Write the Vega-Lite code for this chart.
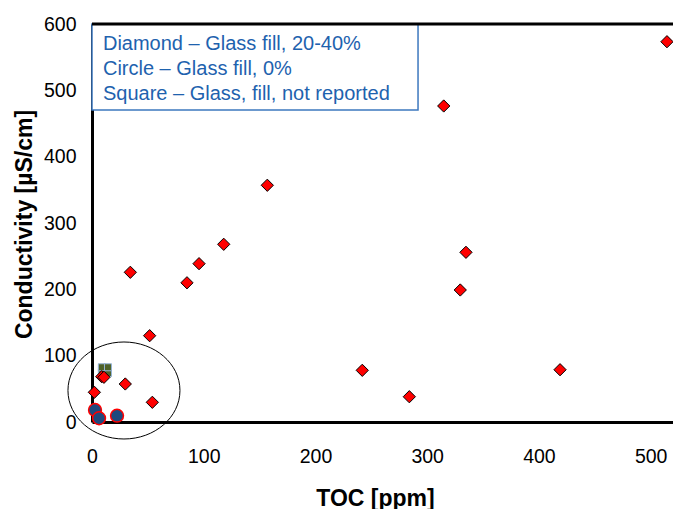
{
  "$schema": "https://vega.github.io/schema/vega-lite/v6.json",
  "width": 581,
  "height": 398,
  "autosize": {"type": "none"},
  "padding": {"left": 92, "top": 24, "right": 0, "bottom": 87},
  "background": "white",
  "config": {
    "view": {"stroke": null},
    "axis": {
      "grid": false,
      "ticks": false,
      "tickSize": 0,
      "labelFlush": false,
      "labelOverlap": false,
      "domainColor": "#000000",
      "domainWidth": 3,
      "labelFont": "Liberation Sans Narrow, Arial Narrow, Liberation Sans, Arial",
      "labelFontSize": 19.5,
      "labelColor": "#000000",
      "titleFont": "Liberation Sans, Arial",
      "titleFontSize": 23,
      "titleFontWeight": "bold",
      "titleColor": "#000000"
    },
    "axisX": {"labelPadding": 25, "titleX": 283, "titleY": 76, "titleBaseline": "middle"},
    "axisY": {"labelPadding": 16, "titleX": -68, "titleY": 200, "titleAngle": -90, "titleAlign": "center", "titleBaseline": "middle"}
  },
  "datasets": {
    "diamonds": [
      {"toc": 514.6, "cond": 573.3},
      {"toc": 314.8, "cond": 476.4},
      {"toc": 334.7, "cond": 255.8},
      {"toc": 329.6, "cond": 199.0},
      {"toc": 156.9, "cond": 356.9},
      {"toc": 117.9, "cond": 267.9},
      {"toc": 95.8, "cond": 238.7},
      {"toc": 85.0, "cond": 209.9},
      {"toc": 34.3, "cond": 225.7},
      {"toc": 51.6, "cond": 130.1},
      {"toc": 241.9, "cond": 77.9},
      {"toc": 284.0, "cond": 38.1},
      {"toc": 418.9, "cond": 78.8},
      {"toc": 2.1, "cond": 44.8},
      {"toc": 8.7, "cond": 68.3},
      {"toc": 10.7, "cond": 67.4},
      {"toc": 29.8, "cond": 57.3},
      {"toc": 54.0, "cond": 29.7}
    ],
    "circles": [
      {"toc": 2.7, "cond": 18.1},
      {"toc": 22.4, "cond": 9.5},
      {"toc": 6.3, "cond": 5.6}
    ],
    "squares": [
      {"toc": 8.8, "cond": 73.9},
      {"toc": 14.3, "cond": 73.9},
      {"toc": 8.8, "cond": 82.5},
      {"toc": 14.3, "cond": 82.5}
    ],
    "oval": [
      {"toc": 28.6, "cond": 47.5}
    ],
    "box": [
      {"toc": 0, "toc2": 291.8, "cond": 600, "cond2": 470.4}
    ],
    "frame": [
      {"cond": 600}
    ],
    "notes": [
      {"toc": 9.8, "cond": 560.8, "label": "Diamond – Glass fill, 20-40%"},
      {"toc": 9.8, "cond": 523.1, "label": "Circle – Glass fill, 0%"},
      {"toc": 9.8, "cond": 485.4, "label": "Square – Glass, fill, not reported"}
    ]
  },
  "layer": [
    {
      "data": {"name": "box"},
      "mark": {"type": "rect", "fill": "white", "stroke": "#3D78BE", "strokeWidth": 1.5},
      "encoding": {
        "x": {"field": "toc", "type": "quantitative", "title": "TOC [ppm]", "scale": {"domain": [0, 520], "nice": false, "zero": false}, "axis": {"values": [0, 100, 200, 300, 400, 500]}},
        "x2": {"field": "toc2"},
        "y": {"field": "cond", "type": "quantitative", "title": "Conductivity [µS/cm]", "scale": {"domain": [0, 600], "nice": false, "zero": false}, "axis": {"values": [0, 100, 200, 300, 400, 500, 600]}},
        "y2": {"field": "cond2"}
      }
    },
    {
      "data": {"name": "notes"},
      "mark": {"type": "text", "align": "left", "baseline": "alphabetic", "font": "Liberation Sans, Arial", "fontSize": 20, "color": "#1E62AE"},
      "encoding": {
        "x": {"field": "toc", "type": "quantitative", "title": "TOC [ppm]", "scale": {"domain": [0, 520], "nice": false, "zero": false}},
        "y": {"field": "cond", "type": "quantitative", "title": "Conductivity [µS/cm]", "scale": {"domain": [0, 600], "nice": false, "zero": false}},
        "text": {"field": "label"}
      }
    },
    {
      "data": {"name": "frame"},
      "mark": {"type": "rule", "color": "#000000", "strokeWidth": 3},
      "encoding": {"y": {"field": "cond", "type": "quantitative", "title": "Conductivity [µS/cm]", "scale": {"domain": [0, 600], "nice": false, "zero": false}}}
    },
    {
      "data": {"name": "oval"},
      "mark": {"type": "point", "filled": false, "stroke": "#000000", "strokeWidth": 1, "opacity": 1, "size": 12544,
        "shape": "M -1 0 C -1 -0.4783 -0.5523 -0.866 0 -0.866 C 0.5523 -0.866 1 -0.4783 1 0 C 1 0.4783 0.5523 0.866 0 0.866 C -0.5523 0.866 -1 0.4783 -1 0 Z"},
      "encoding": {
        "x": {"field": "toc", "type": "quantitative", "title": "TOC [ppm]", "scale": {"domain": [0, 520], "nice": false, "zero": false}},
        "y": {"field": "cond", "type": "quantitative", "title": "Conductivity [µS/cm]", "scale": {"domain": [0, 600], "nice": false, "zero": false}}
      }
    },
    {
      "data": {"name": "squares"},
      "mark": {"type": "point", "shape": "square", "filled": true, "fill": "#4F6228", "stroke": "#95B3D7", "strokeWidth": 1, "opacity": 1, "size": 49},
      "encoding": {
        "x": {"field": "toc", "type": "quantitative", "title": "TOC [ppm]", "scale": {"domain": [0, 520], "nice": false, "zero": false}},
        "y": {"field": "cond", "type": "quantitative", "title": "Conductivity [µS/cm]", "scale": {"domain": [0, 600], "nice": false, "zero": false}}
      }
    },
    {
      "data": {"name": "diamonds"},
      "mark": {"type": "point", "shape": "diamond", "filled": true, "fill": "#FF0000", "stroke": "#000000", "strokeWidth": 1, "opacity": 1, "size": 150},
      "encoding": {
        "x": {"field": "toc", "type": "quantitative", "title": "TOC [ppm]", "scale": {"domain": [0, 520], "nice": false, "zero": false}},
        "y": {"field": "cond", "type": "quantitative", "title": "Conductivity [µS/cm]", "scale": {"domain": [0, 600], "nice": false, "zero": false}}
      }
    },
    {
      "data": {"name": "circles"},
      "mark": {"type": "point", "shape": "circle", "filled": true, "fill": "#1F497D", "stroke": "#FF0000", "strokeWidth": 1.5, "opacity": 1, "size": 165},
      "encoding": {
        "x": {"field": "toc", "type": "quantitative", "title": "TOC [ppm]", "scale": {"domain": [0, 520], "nice": false, "zero": false}},
        "y": {"field": "cond", "type": "quantitative", "title": "Conductivity [µS/cm]", "scale": {"domain": [0, 600], "nice": false, "zero": false}}
      }
    }
  ]
}
